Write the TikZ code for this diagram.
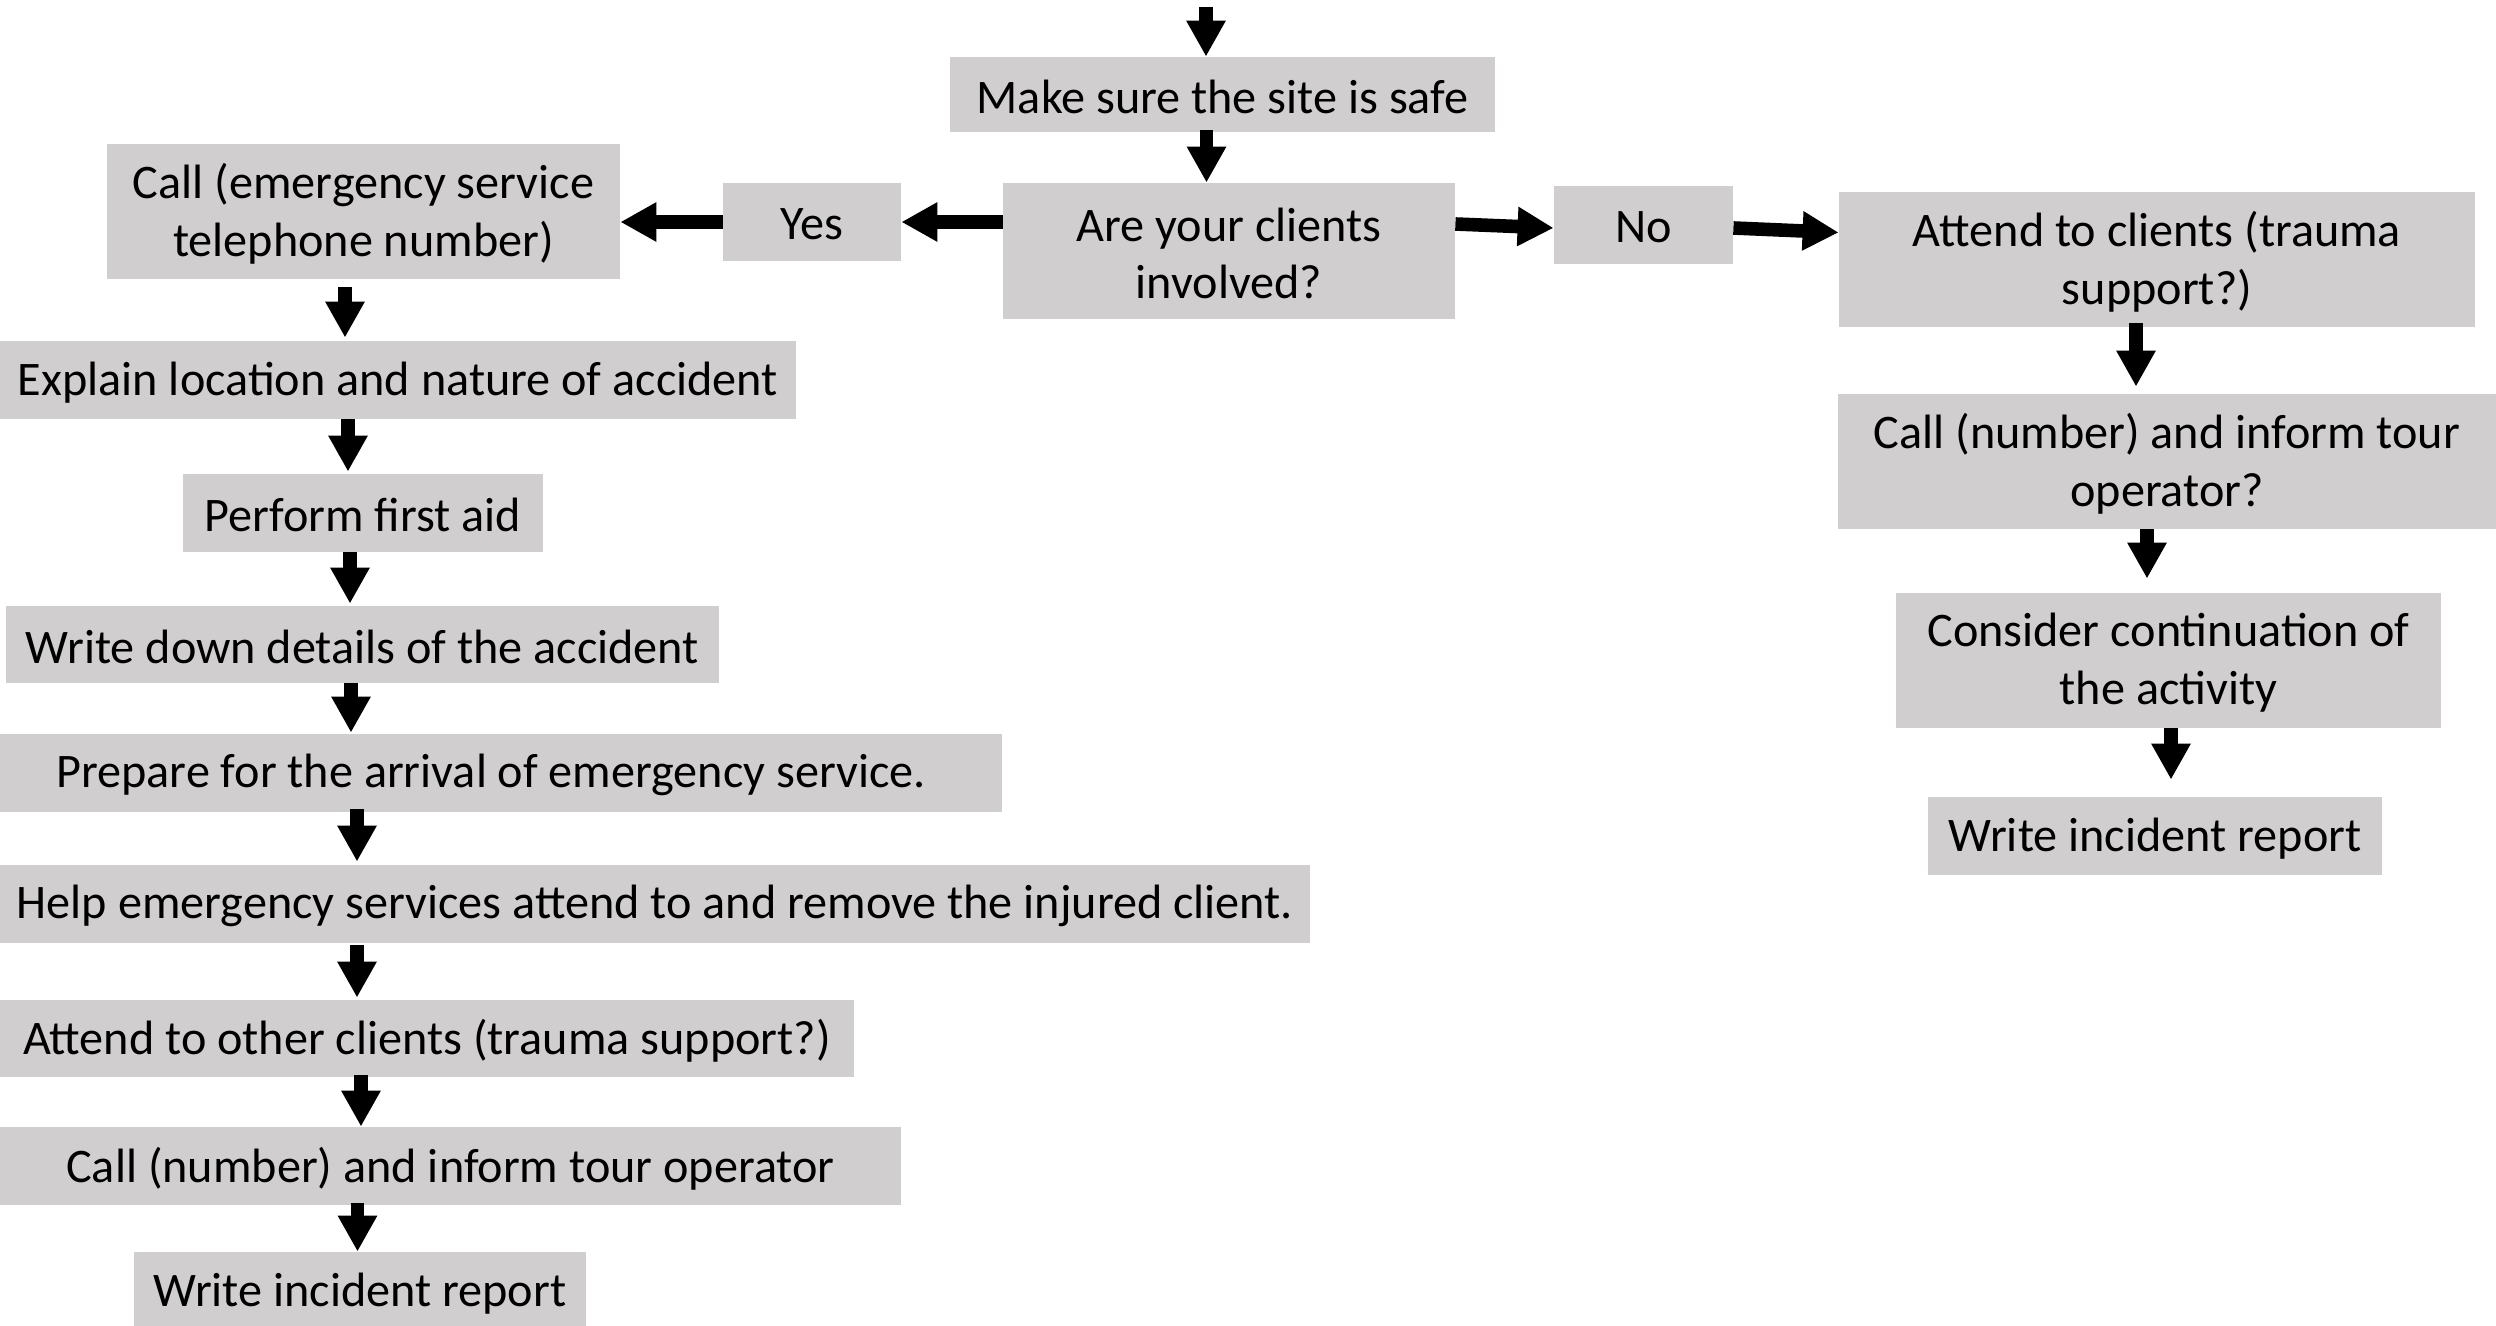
\documentclass[tikz,border=0pt]{standalone}
\usepackage{fontspec}
\setmainfont{Carlito}
\usetikzlibrary{arrows.meta,calc,backgrounds}
\definecolor{boxgray}{RGB}{208,206,206}
\begin{document}
\begin{tikzpicture}[x=1pt,y=1pt,
  box/.style={draw=none, inner sep=2pt, align=center, yshift=-1.2pt,
    font=\fontsize{24.1}{28.8}\selectfont, text=black},
  boxfill/.style={fill=boxgray},
  arr/.style={line width=6.8pt, -{Triangle[length=18pt,width=18.5pt]},
    transform canvas={yshift=1.2pt}}]
\useasboundingbox (0,0) rectangle (1248,-663);

% centre column
\coordinate (start) at (603,-4.7);
\node[box, minimum width=272.5pt, minimum height=37.5pt] (safe) at (611.25,-47.25) {Make sure the site is safe};
\node[box, minimum width=226pt, minimum height=68pt] (are) at (614.5,-125.5) {Are your clients\\involved?};
\node[box, minimum width=89pt, minimum height=39pt] (yes) at (406,-111) {Yes};
\node[box, minimum width=89.5pt, minimum height=39pt] (no) at (821.75,-112.5) {No};

% left column
\node[box, minimum width=256.5pt, minimum height=67.5pt] (call) at (181.75,-105.75) {Call (emergency service\\telephone number)};
\node[box, minimum width=398pt, minimum height=39pt] (expl) at (199,-190) {Explain location and nature of accident};
\node[box, minimum width=180pt, minimum height=39pt] (first) at (181.5,-256.5) {Perform first aid};
\node[box, minimum width=356.5pt, minimum height=38.5pt] (det) at (181.25,-322.25) {Write down details of the accident};
\node[box, minimum width=501pt, minimum height=39pt] (prep) at (250.5,-386.5) {Prepare for the arrival of emergency service.\hspace*{10pt}};
\node[box, minimum width=655pt, minimum height=39pt] (help) at (327.5,-452) {Help emergency services attend to and remove the injured client.};
\node[box, minimum width=427pt, minimum height=38.5pt] (other) at (213.5,-519.25) {Attend to other clients (trauma support?)};
\node[box, minimum width=450.5pt, minimum height=39pt] (callL) at (225.25,-583) {Call (number) and inform tour operator};
\node[box, minimum width=226pt, minimum height=39pt] (repL) at (180,-645.5) {Write incident report};

% right column
\node[box, minimum width=318pt, minimum height=67.5pt] (att) at (1078.5,-129.75) {Attend to clients (trauma\\support?)};
\node[box, minimum width=329pt, minimum height=67.5pt] (callR) at (1083.5,-230.75) {Call (number) and inform tour\\operator?};
\node[box, minimum width=272.5pt, minimum height=67.5pt] (cons) at (1084.25,-330.25) {Consider continuation of\\the activity};
\node[box, minimum width=227pt, minimum height=39pt] (repR) at (1077.5,-418) {Write incident report};

% box fills, behind the text (nodes carry a small downward text shift)
\begin{scope}[on background layer]
  \foreach \n in {safe,are,yes,no,call,expl,first,det,prep,help,other,callL,repL,att,callR,cons,repR}
    \fill[boxfill] ([yshift=1.2pt]\n.south west) rectangle ([yshift=1.2pt]\n.north east);
\end{scope}

% arrows centre
\draw[arr] (start) -- (start |- safe.north);
\draw[arr] ([xshift=-8pt,yshift=1pt]safe.south) -- ([xshift=-8pt]safe.south |- are.north);
\draw[arr] (are.west |- yes.east) -- (yes.east);
\draw[arr] (yes.west) -- (call.east |- yes.west);
\draw[arr] ([yshift=13.5pt]are.east) -- ([yshift=-1.5pt]no.west);
\draw[arr] ([yshift=-1.5pt]no.east) -- ([yshift=13.5pt]att.west);

% arrows left
\draw[arr, shorten <=4pt, shorten >=1.5pt] ([xshift=-9.25pt]call.south) -- ([xshift=-9.25pt]call.south |- expl.north);
\draw[arr, shorten >=1pt] ([xshift=-25pt]expl.south) -- ([xshift=-25pt]expl.south |- first.north);
\draw[arr, shorten >=1pt] ([xshift=-6.5pt]first.south) -- ([xshift=-6.5pt]first.south |- det.north);
\draw[arr, shorten >=0.5pt] ([xshift=-5.75pt]det.south) -- ([xshift=-5.75pt]det.south |- prep.north);
\draw[arr, shorten >=1.5pt] ([xshift=-72pt,yshift=1.5pt]prep.south) -- ([xshift=-72pt]prep.south |- help.north);
\draw[arr, shorten <=1pt, shorten >=1pt] ([xshift=-149pt]help.south) -- ([xshift=-149pt]help.south |- other.north);
\draw[arr] ([xshift=-33pt,yshift=1pt]other.south) -- ([xshift=-33pt]other.south |- callL.north);
\draw[arr] ([xshift=-46.5pt,yshift=1pt]callL.south) -- ([xshift=-46.5pt]callL.south |- repL.north);

% arrows right
\draw[arr, shorten >=3.5pt] ([xshift=-10.5pt,yshift=2pt]att.south) -- ([xshift=-10.5pt]att.south |- callR.north);
\draw[arr, shorten >=7pt] ([xshift=-10pt]callR.south) -- ([xshift=-10pt]callR.south |- cons.north);
\draw[arr, shorten >=8.5pt] ([xshift=1.25pt]cons.south) -- ([xshift=1.25pt]cons.south |- repR.north);
\end{tikzpicture}
\end{document}
